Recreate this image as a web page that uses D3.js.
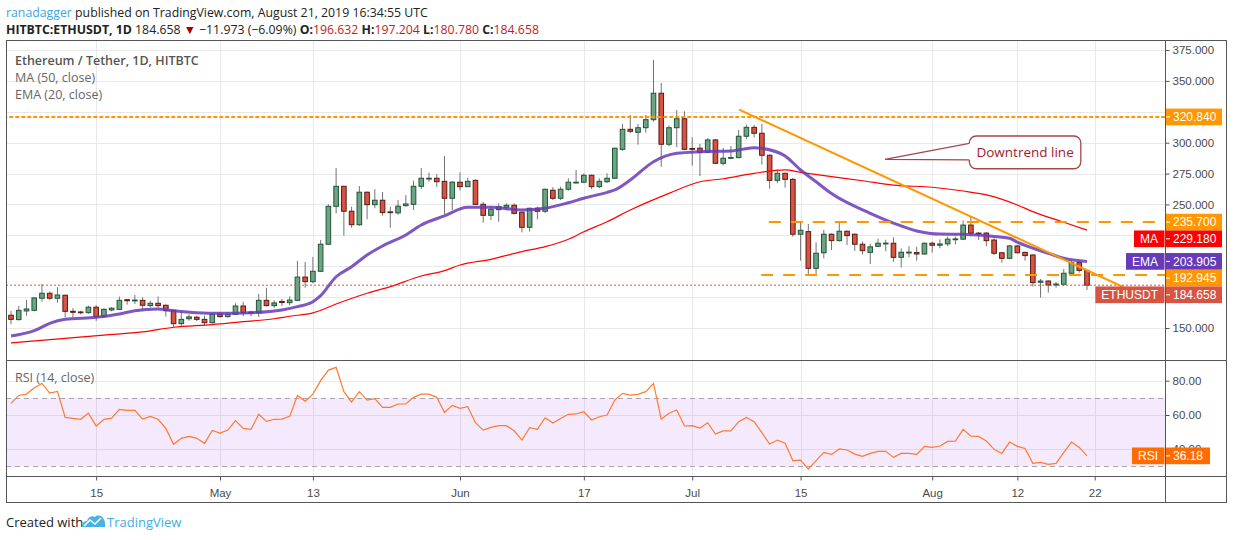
<!DOCTYPE html>
<html>
<head>
<meta charset="utf-8">
<script src="https://cdnjs.cloudflare.com/ajax/libs/d3/7.8.5/d3.min.js"></script>
<style>
  body { margin: 0; background: #fff; }
  svg { display: block; font-family: "Liberation Sans", Arial, sans-serif; }
</style>
</head>
<body>
<svg id="chart" width="1234" height="540"></svg>
<script>
// ETH/USDT daily candles, HITBTC, 4 Apr - 21 Aug 2019
const firstDay = Date.UTC(2019, 3, 4);

const opens = [
  160.3, 156.8, 163.8, 164.3, 174.1, 178.1, 174.1, 176.5, 163.5, 163.0,
  162.4, 166.8, 159.2, 164.6, 165.1, 172.9, 172.0, 172.4, 168.1, 170.0,
  168.4, 164.3, 153.5, 157.5, 158.7, 157.0, 154.3, 161.3, 159.2, 161.1,
  167.8, 162.8, 162.3, 172.4, 168.1, 171.5, 170.5, 172.4, 191.2, 187.5,
  195.9, 217.8, 248.5, 264.7, 244.5, 233.6, 259.9, 249.8, 253.4, 244.0,
  243.2, 249.0, 250.1, 264.7, 270.8, 271.2, 268.7, 255.0, 268.0, 264.4,
  269.5, 250.1, 241.2, 245.8, 247.7, 249.3, 243.7, 231.5, 246.9, 244.5,
  261.5, 255.0, 262.3, 267.7, 268.0, 273.6, 264.4, 268.4, 271.2, 294.6,
  310.8, 308.4, 312.1, 318.6, 340.0, 298.7, 312.1, 319.4, 295.3, 295.5,
  292.2, 302.2, 283.3, 287.7, 287.9, 305.2, 312.4, 307.6, 289.8, 269.5,
  275.2, 270.3, 225.9, 228.0, 198.3, 210.9, 225.9, 220.7, 228.3, 225.9,
  217.8, 211.2, 216.1, 218.5, 218.6, 207.2, 211.2, 211.0, 209.9, 218.6,
  217.0, 218.1, 221.9, 221.9, 233.3, 226.8, 226.8, 221.2, 210.9, 206.4,
  216.4, 211.2, 209.1, 187.0, 188.0, 184.8, 185.4, 194.3, 202.9, 196.632
];
const highs = [
  163.8, 167.8, 172.7, 175.0, 185.6, 179.5, 183.0, 177.0, 166.0, 164.0,
  168.0, 168.4, 166.0, 167.0, 175.4, 173.5, 176.7, 174.8, 172.0, 175.4,
  169.0, 164.5, 163.5, 161.0, 160.0, 160.0, 162.0, 163.0, 162.5, 170.0,
  171.3, 164.0, 177.5, 182.6, 172.5, 173.5, 175.5, 204.3, 203.4, 207.5,
  221.2, 250.1, 279.5, 265.0, 248.2, 264.9, 260.4, 262.3, 260.1, 248.2,
  253.4, 257.6, 269.2, 279.5, 275.7, 274.5, 289.2, 268.9, 276.0, 271.5,
  270.3, 252.2, 248.2, 250.9, 250.9, 250.9, 244.2, 247.5, 248.2, 262.8,
  264.0, 264.4, 271.2, 277.9, 275.2, 274.2, 271.2, 275.2, 296.0, 315.1,
  322.4, 315.1, 322.4, 366.9, 348.3, 314.0, 326.4, 325.4, 304.3, 298.9,
  303.7, 303.0, 295.7, 297.3, 310.3, 314.7, 314.4, 315.1, 290.5, 278.3,
  275.8, 271.6, 235.2, 234.2, 219.4, 229.3, 226.5, 235.2, 229.0, 226.5,
  220.0, 218.1, 222.3, 221.4, 223.4, 214.5, 216.3, 215.7, 219.2, 219.9,
  221.7, 224.1, 224.1, 237.0, 240.1, 227.7, 227.7, 222.5, 211.5, 217.2,
  217.2, 211.8, 209.7, 189.7, 188.6, 187.2, 197.8, 204.5, 204.5, 197.204
];
const lows = [
  153.0, 156.0, 160.0, 163.5, 171.3, 172.5, 170.5, 158.7, 158.4, 161.0,
  161.5, 155.7, 158.5, 163.5, 164.6, 168.9, 169.4, 165.0, 166.6, 166.6,
  159.2, 150.8, 151.7, 155.9, 155.7, 151.7, 153.7, 158.5, 158.4, 160.5,
  159.5, 159.5, 159.0, 167.5, 166.2, 167.8, 168.5, 171.6, 182.6, 186.2,
  195.4, 217.3, 242.8, 224.7, 231.2, 232.8, 238.0, 246.9, 240.9, 231.2,
  241.6, 248.2, 245.5, 262.5, 268.4, 264.1, 242.0, 245.5, 261.2, 264.0,
  249.5, 235.2, 237.4, 236.0, 245.5, 242.0, 227.4, 228.0, 237.9, 243.0,
  253.6, 253.6, 261.2, 267.2, 267.2, 262.3, 263.3, 267.2, 270.5, 293.5,
  307.6, 298.4, 308.1, 317.0, 280.6, 297.2, 296.3, 294.0, 281.4, 273.0,
  291.4, 282.7, 281.7, 286.7, 287.4, 302.8, 304.3, 282.2, 262.8, 267.2,
  263.6, 223.9, 204.5, 192.9, 192.4, 206.4, 213.1, 220.0, 217.2, 212.3,
  209.4, 201.8, 215.5, 212.2, 203.7, 199.0, 207.2, 204.5, 209.3, 211.0,
  214.5, 216.4, 217.6, 221.3, 224.1, 221.2, 216.1, 209.1, 202.9, 205.8,
  210.4, 204.5, 183.5, 174.6, 178.6, 182.6, 184.0, 193.8, 194.8, 180.780
];
const closes = [
  157.0, 164.3, 165.4, 174.3, 178.1, 174.1, 176.7, 163.5, 162.7, 162.5,
  166.8, 159.2, 165.1, 166.0, 172.4, 172.1, 172.6, 168.4, 170.0, 168.1,
  164.0, 153.5, 157.0, 159.0, 157.0, 154.3, 161.1, 159.2, 161.1, 167.8,
  162.4, 162.3, 172.4, 168.1, 170.3, 170.6, 172.6, 191.2, 187.5, 195.9,
  217.8, 248.5, 264.7, 244.5, 233.6, 259.9, 249.8, 253.4, 243.4, 243.5,
  248.6, 250.4, 264.7, 271.2, 271.2, 268.4, 255.0, 268.0, 264.4, 268.7,
  250.1, 241.2, 246.1, 248.2, 249.3, 242.8, 231.5, 246.9, 244.5, 262.3,
  255.0, 262.3, 268.0, 268.0, 273.6, 264.4, 268.7, 271.2, 295.5, 310.8,
  309.2, 312.1, 318.6, 340.0, 298.7, 312.1, 319.4, 294.6, 295.1, 292.2,
  302.2, 283.3, 287.4, 288.0, 305.2, 312.4, 307.6, 289.8, 269.5, 275.2,
  270.3, 225.9, 229.1, 198.3, 210.5, 225.9, 220.7, 228.3, 224.8, 217.8,
  212.6, 215.7, 218.6, 218.7, 207.2, 211.3, 211.4, 209.9, 218.6, 217.0,
  218.0, 221.9, 222.1, 233.3, 226.8, 226.4, 220.7, 210.5, 206.4, 216.4,
  210.9, 208.6, 186.7, 188.0, 184.8, 185.6, 194.3, 202.9, 196.632, 184.658
];

// RSI(14) per candle
const rsiValues = [
  66.8, 71.4, 72.2, 75.9, 78.4, 72.8, 73.8, 58.6, 58.0, 57.5,
  61.1, 53.6, 57.5, 58.2, 63.3, 62.7, 62.7, 57.6, 59.2, 57.5,
  52.2, 42.9, 46.4, 47.5, 46.4, 43.5, 51.0, 49.5, 51.2, 56.7,
  52.2, 51.6, 60.4, 56.3, 57.5, 57.6, 59.2, 71.4, 68.1, 72.2,
  80.0, 86.2, 87.8, 73.6, 67.6, 73.6, 68.7, 69.5, 64.5, 64.5,
  66.4, 66.4, 70.3, 72.2, 72.2, 70.3, 61.5, 65.6, 63.9, 64.8,
  55.5, 51.2, 52.8, 53.8, 53.8, 50.8, 45.4, 52.6, 51.6, 58.4,
  55.3, 58.0, 60.4, 60.6, 61.9, 57.1, 59.0, 60.0, 68.7, 72.6,
  71.6, 72.0, 73.6, 78.4, 57.6, 61.0, 62.9, 53.6, 53.8, 52.4,
  55.5, 48.9, 50.7, 50.7, 56.1, 58.6, 56.1, 49.7, 43.1, 45.4,
  43.5, 33.4, 33.7, 28.5, 33.4, 38.2, 37.0, 40.2, 39.6, 37.2,
  35.9, 37.6, 38.8, 38.8, 35.3, 37.6, 37.6, 37.0, 41.7, 41.1,
  41.9, 44.6, 44.8, 51.6, 47.7, 47.5, 44.8, 40.0, 37.6, 44.2,
  41.7, 40.5, 31.8, 32.4, 31.2, 31.8, 38.2, 44.2, 41.1, 36.18
];

// EMA(20) and MA(50), read at a set of candle indexes
const emaDays = [0, 3, 5, 7, 11, 14, 16, 19, 21, 24, 27, 31, 35, 37, 39, 40, 42, 44, 46, 48,
  51, 53, 56, 59, 62, 66, 69, 72, 74, 77, 78, 80, 83, 86, 89, 93, 96, 97, 100, 102,
  104, 106, 111, 114, 117, 120, 123, 126, 129, 130, 134, 136, 139];
const emaValues = [143.5, 147.8, 153.8, 157.0, 158.7, 161.3, 164.0, 165.4, 164.0, 162.4,
  161.9, 162.4, 164.6, 167.3, 171.3, 176.2, 191.5, 199.6, 209.1, 216.4,
  225.3, 233.4, 240.7, 247.7, 247.7, 245.5, 246.9, 251.4, 255.0, 259.8,
  261.7, 269.8, 284.6, 291.4, 292.7, 293.3, 295.9, 295.4, 289.2, 277.9,
  268.4, 258.8, 242.8, 234.9, 228.5, 226.0, 225.9, 224.7, 222.6, 219.5,
  210.5, 206.4, 203.905];
const maDays = [0, 7, 12, 17, 21, 26, 30, 34, 36, 39, 42, 46, 49, 53, 56, 58, 62, 66, 69, 72,
  74, 77, 80, 85, 89, 92, 96, 100, 102, 106, 110, 114, 119, 123, 126, 130, 132, 136, 139];
const maValues = [137.9, 141.6, 144.3, 146.8, 150.6, 152.7, 155.1, 157.5, 159.5, 162.2,
  169.4, 178.1, 183.5, 192.1, 196.4, 201.0, 205.6, 211.8, 215.8, 221.8,
  227.9, 236.0, 245.5, 259.0, 268.4, 270.8, 275.2, 277.9, 276.0, 272.5,
  269.2, 265.7, 263.9, 260.9, 257.7, 249.6, 244.2, 235.6, 229.18];

// axis ticks
const priceTicks = [150, 175, 200, 225, 250, 275, 300, 325, 350, 375];
const rsiTicks = [40, 60, 80];
const dateTicks = [[3, 15], [4, 1], [4, 13], [5, 1], [5, 17], [6, 1], [6, 15], [7, 1], [7, 12], [7, 22]];
const dateTickLabels = ["15", "May", "13", "Jun", "17", "Jul", "15", "Aug", "12", "22"];

// drawn levels (support / resistance)
const levelValues = [320.84, 235.7, 192.945];
const levelStartDays = [-1, 97.9, 96.9];
const trendDays = [94.06, 143.67];
const trendPrices = [326.8, 183.2];

const DAY = 864e5;
const dayToDate = (d) => new Date(firstDay + d * DAY);

const svg = d3.select("#chart");

// layout
const L = 6, R = 1227, AX = 1165, TOP = 40, BOT = 503;
const priceBottom = 360, rsiTop = 360, rsiBottom = 476;

const x = d3.scaleUtc()
  .domain([dayToDate(0), dayToDate(139)])
  .range([11, 1087]);
const y = d3.scaleLinear().domain([150, 375]).range([328, 50]);
const yr = d3.scaleLinear().domain([40, 80]).range([449.3, 380.7]);

const defs = svg.append("defs");
defs.append("clipPath").attr("id", "clip-price")
  .append("rect").attr("x", L).attr("y", TOP).attr("width", AX - L).attr("height", priceBottom - TOP);
defs.append("clipPath").attr("id", "clip-rsi")
  .append("rect").attr("x", L).attr("y", rsiTop).attr("width", AX - L).attr("height", rsiBottom - rsiTop);

// ---- grid
const grid = svg.append("g").attr("stroke", "#e9e9e9").attr("stroke-width", 1);
grid.selectAll("line.h").data(priceTicks).join("line")
  .attr("x1", L).attr("x2", AX)
  .attr("y1", (d) => Math.round(y(d)) + 0.5).attr("y2", (d) => Math.round(y(d)) + 0.5);
grid.selectAll("line.r").data(rsiTicks).join("line")
  .attr("x1", L).attr("x2", AX)
  .attr("y1", (d) => Math.round(yr(d)) + 0.5).attr("y2", (d) => Math.round(yr(d)) + 0.5);
const tickDates = dateTicks.map(([m, d]) => new Date(Date.UTC(2019, m, d)));
grid.selectAll("line.v").data(tickDates).join("line")
  .attr("x1", (d) => Math.round(x(d)) + 0.5).attr("x2", (d) => Math.round(x(d)) + 0.5)
  .attr("y1", TOP).attr("y2", rsiBottom);

// ---- RSI pane
const rsiG = svg.append("g").attr("clip-path", "url(#clip-rsi)");
rsiG.append("rect")
  .attr("x", L).attr("width", AX - L)
  .attr("y", yr(70)).attr("height", yr(30) - yr(70))
  .attr("fill", "#9c27f0").attr("fill-opacity", 0.1);
rsiG.selectAll("line.band").data([70, 30]).join("line")
  .attr("x1", L).attr("x2", AX)
  .attr("y1", (d) => Math.round(yr(d)) + 0.5).attr("y2", (d) => Math.round(yr(d)) + 0.5)
  .attr("stroke", "#a9a3ad").attr("stroke-dasharray", "5,4");
rsiG.append("path")
  .datum(rsiValues)
  .attr("fill", "none")
  .attr("stroke", "#ff7a2e")
  .attr("stroke-width", 1.2)
  .attr("d", d3.line().x((d, i) => x(dayToDate(i))).y((d) => yr(d)));

// ---- price pane
const candles = closes.map((c, i) => ({
  date: dayToDate(i), o: opens[i], h: highs[i], l: lows[i], c,
}));
const priceG = svg.append("g").attr("clip-path", "url(#clip-price)");

priceG.append("g").selectAll("line").data(candles).join("line")
  .attr("x1", (d) => x(d.date)).attr("x2", (d) => x(d.date))
  .attr("y1", (d) => y(d.h)).attr("y2", (d) => y(d.l))
  .attr("stroke", "#737375").attr("stroke-width", 1);

const bw = 4.6;
priceG.append("g").selectAll("rect").data(candles).join("rect")
  .attr("x", (d) => x(d.date) - bw / 2)
  .attr("y", (d) => y(Math.max(d.o, d.c)))
  .attr("width", bw)
  .attr("height", (d) => Math.max(0.8, Math.abs(y(d.o) - y(d.c))))
  .attr("fill", (d) => (d.c >= d.o ? "#6ba583" : "#d75442"))
  .attr("stroke", (d) => (d.c >= d.o ? "#225437" : "#5b1a13"))
  .attr("stroke-width", 1);

const avgLine = (days) => d3.line()
  .x((d, i) => x(dayToDate(days[i])))
  .y((d) => y(d))
  .curve(d3.curveMonotoneX);

priceG.append("path").datum(maValues)
  .attr("fill", "none").attr("stroke", "#ff0000").attr("stroke-width", 1.2)
  .attr("d", avgLine(maDays));
priceG.append("path").datum(emaValues)
  .attr("fill", "none").attr("stroke", "#673ab7").attr("stroke-width", 3)
  .attr("stroke-opacity", 0.85)
  .attr("d", avgLine(emaDays));

// drawn levels
priceG.append("line")
  .attr("x1", L).attr("x2", AX)
  .attr("y1", y(closes[139])).attr("y2", y(closes[139]))
  .attr("stroke", "#d75442").attr("stroke-dasharray", "2,2");

priceG.selectAll("line.level").data(levelValues).join("line")
  .attr("x1", (d, i) => x(dayToDate(levelStartDays[i]))).attr("x2", AX)
  .attr("y1", (d) => y(d)).attr("y2", (d) => y(d))
  .attr("stroke", "#ff9800").attr("stroke-width", 2)
  .attr("stroke-dasharray", (d, i) => (i === 0 ? "4,2" : "12,10"));

priceG.append("line")
  .attr("x1", x(dayToDate(trendDays[0]))).attr("y1", y(trendPrices[0]))
  .attr("x2", x(dayToDate(trendDays[1]))).attr("y2", y(trendPrices[1]))
  .attr("stroke", "#ff9800").attr("stroke-width", 2);

// callout "Downtrend line"
const tipX = x(dayToDate(112.9)), tipY = y(286.5);
const bx0 = x(dayToDate(123.8)), bx1 = x(dayToDate(138.2));
const by0 = y(305.4), by1 = y(278.9);
const wTop = y(299.5), wBot = y(286.0);
const note = svg.append("g");
note.append("rect")
  .attr("x", bx0).attr("y", by0).attr("width", bx1 - bx0).attr("height", by1 - by0)
  .attr("rx", 7).attr("fill", "#fff").attr("stroke", "#a8464a").attr("stroke-width", 1.3);
note.append("path")
  .attr("d", `M${bx0 + 1},${wTop} L${tipX},${tipY} L${bx0 + 1},${wBot} Z`)
  .attr("fill", "#fff").attr("stroke", "none");
note.append("path")
  .attr("d", `M${bx0},${wTop} L${tipX},${tipY} L${bx0},${wBot}`)
  .attr("fill", "none").attr("stroke", "#a8464a").attr("stroke-width", 1.3);
note.append("text")
  .attr("x", (bx0 + bx1) / 2).attr("y", (by0 + by1) / 2 + 5)
  .attr("text-anchor", "middle")
  .attr("font-family", "'Open Sans', sans-serif").attr("font-size", 13.5)
  .attr("fill", "#a3202a")
  .text("Downtrend line");

// ---- frame and pane separators
const frame = svg.append("g").attr("stroke", "#555").attr("fill", "none");
frame.append("rect").attr("x", L + 0.5).attr("y", TOP + 0.5).attr("width", R - L - 1).attr("height", BOT - TOP - 1);
frame.append("line").attr("x1", L).attr("x2", R).attr("y1", priceBottom + 0.5).attr("y2", priceBottom + 0.5);
frame.append("line").attr("x1", L).attr("x2", R).attr("y1", rsiBottom + 0.5).attr("y2", rsiBottom + 0.5);
frame.append("line").attr("x1", AX + 0.5).attr("x2", AX + 0.5).attr("y1", TOP).attr("y2", BOT);

// ---- price scale labels (stacked so they do not overlap)
const boxH = 16.7;
const priceLabels = [
  { value: 320.84, text: "320.840", color: "#ff9800" },
  { value: 235.7, text: "235.700", color: "#ff9800" },
  { value: 229.18, text: "229.180", color: "#ff0000", name: "MA" },
  { value: 203.905, text: "203.905", color: "#673ab7", name: "EMA" },
  { value: 192.945, text: "192.945", color: "#ff9800" },
  { value: 184.658, text: "184.658", color: "#d75442", name: "ETHUSDT" },
];
let lastBottom = -Infinity;
priceLabels.sort((a, b) => b.value - a.value).forEach((d) => {
  let cy = y(d.value);
  if (cy - boxH / 2 < lastBottom) cy = lastBottom + boxH / 2;
  lastBottom = cy + boxH / 2;
  d.cy = cy;
});
const rsiLabels = [{ value: 36.18, text: "36.18", color: "#ff6d00", name: "RSI", cy: yr(36.18), w: 44 }];

// tick labels hidden behind a price label are left out, as on the original
const covered = (cy) => priceLabels.some((d) => Math.abs(d.cy - cy) < boxH / 2 + 4);
const shownPriceTicks = priceTicks.filter((v) => !covered(y(v)));

// ---- axes
function styleAxis(g) {
  g.select(".domain").remove();
  g.selectAll(".tick line").attr("stroke", "#555");
  g.selectAll(".tick text").attr("fill", "#4a4a4a").attr("font-size", 11.5)
    .attr("font-family", "'Liberation Sans', Arial, sans-serif");
}
svg.append("g").attr("transform", `translate(${AX + 0.5},0)`)
  .call(d3.axisRight(y).tickValues(shownPriceTicks).tickSize(4).tickPadding(3).tickFormat(d3.format(".3f")))
  .call(styleAxis);
svg.append("g").attr("transform", `translate(${AX + 0.5},0)`)
  .call(d3.axisRight(yr).tickValues(rsiTicks).tickSize(4).tickPadding(3).tickFormat(d3.format(".2f")))
  .call(styleAxis);
svg.append("g").attr("transform", `translate(0,${rsiBottom + 0.5})`)
  .call(d3.axisBottom(x).tickValues(tickDates).tickSize(4).tickPadding(8)
    .tickFormat((d, i) => dateTickLabels[i]))
  .call(styleAxis);

function drawLabel(d, w) {
  const g = svg.append("g").attr("font-size", 12);
  g.append("rect").attr("x", AX + 1).attr("y", d.cy - boxH / 2)
    .attr("width", w).attr("height", boxH).attr("fill", d.color);
  g.append("line").attr("x1", AX + 1).attr("x2", AX + 5)
    .attr("y1", d.cy).attr("y2", d.cy).attr("stroke", "#fff");
  g.append("text").attr("x", AX + 8).attr("y", d.cy + 4.2)
    .attr("fill", "#fff")
    .text(d.text);
  if (d.name) {
    const t = g.append("text").attr("y", d.cy + 4.2)
      .attr("fill", "#fff")
      .attr("text-anchor", "end").attr("x", AX - 7).text(d.name);
    const tw = t.node().getComputedTextLength();
    g.insert("rect", "text:last-of-type")
      .attr("x", AX - tw - 13).attr("y", d.cy - boxH / 2)
      .attr("width", tw + 12.5).attr("height", boxH).attr("fill", d.color);
  }
}
priceLabels.forEach((d) => drawLabel(d, 56));
rsiLabels.forEach((d) => drawLabel(d, d.w));

// ---- legends inside the panes
const legend = svg.append("g").attr("font-family", "'Open Sans', sans-serif").attr("font-size", 12.5);
legend.append("text").attr("x", 15).attr("y", 65).attr("fill", "#555").attr("font-weight", 600)
  .text("Ethereum / Tether, 1D, HITBTC");
legend.append("text").attr("x", 15).attr("y", 82).attr("fill", "#666").text("MA (50, close)");
legend.append("text").attr("x", 15).attr("y", 99).attr("fill", "#666").text("EMA (20, close)");
legend.append("text").attr("x", 15).attr("y", 382).attr("fill", "#666").text("RSI (14, close)");

// ---- header
const head = svg.append("g").attr("font-family", "'Open Sans', sans-serif").attr("font-size", 12.3);
const h1 = head.append("text").attr("x", 6).attr("y", 17).attr("fill", "#222");
h1.append("tspan").attr("fill", "#3ba7df").text("ranadagger");
h1.append("tspan").text(" published on TradingView.com, August 21, 2019 16:34:55 UTC");

const h2 = head.append("text").attr("x", 6).attr("y", 34).attr("fill", "#222");
h2.append("tspan").attr("font-weight", "bold").text("HITBTC:ETHUSDT, 1D");
h2.append("tspan").text("  184.658 ");
h2.append("tspan").attr("fill", "#a30000").text("▼");
h2.append("tspan").text(" −11.973 (−6.09%) ");
[["O:", "196.632"], [" H:", "197.204"], [" L:", "180.780"], [" C:", "184.658"]].forEach(([k, v]) => {
  h2.append("tspan").attr("font-weight", "bold").text(k);
  h2.append("tspan").attr("fill", "#c21d1d").text(v);
});

// ---- footer
const foot = svg.append("g").attr("font-family", "'Open Sans', sans-serif").attr("font-size", 13);
foot.append("text").attr("x", 6).attr("y", 527).attr("fill", "#222").text("Created with");
foot.append("path")
  .attr("transform", "translate(82,514)")
  .attr("d", "M0,13 C0,9 2,7 5,7 C6,3 10,1 13,3 C15,1 19,1 21,4 C23,6 23,9 23,10 L23,13 Z")
  .attr("fill", "#45b3e3");
foot.append("path")
  .attr("transform", "translate(82,514)")
  .attr("d", "M2,12 L8,6 L13,10 L19,4")
  .attr("fill", "none").attr("stroke", "#fff").attr("stroke-width", 1.6);
foot.append("text").attr("x", 107).attr("y", 527).attr("fill", "#3bb0e2").text("TradingView");
</script>
</body>
</html>
